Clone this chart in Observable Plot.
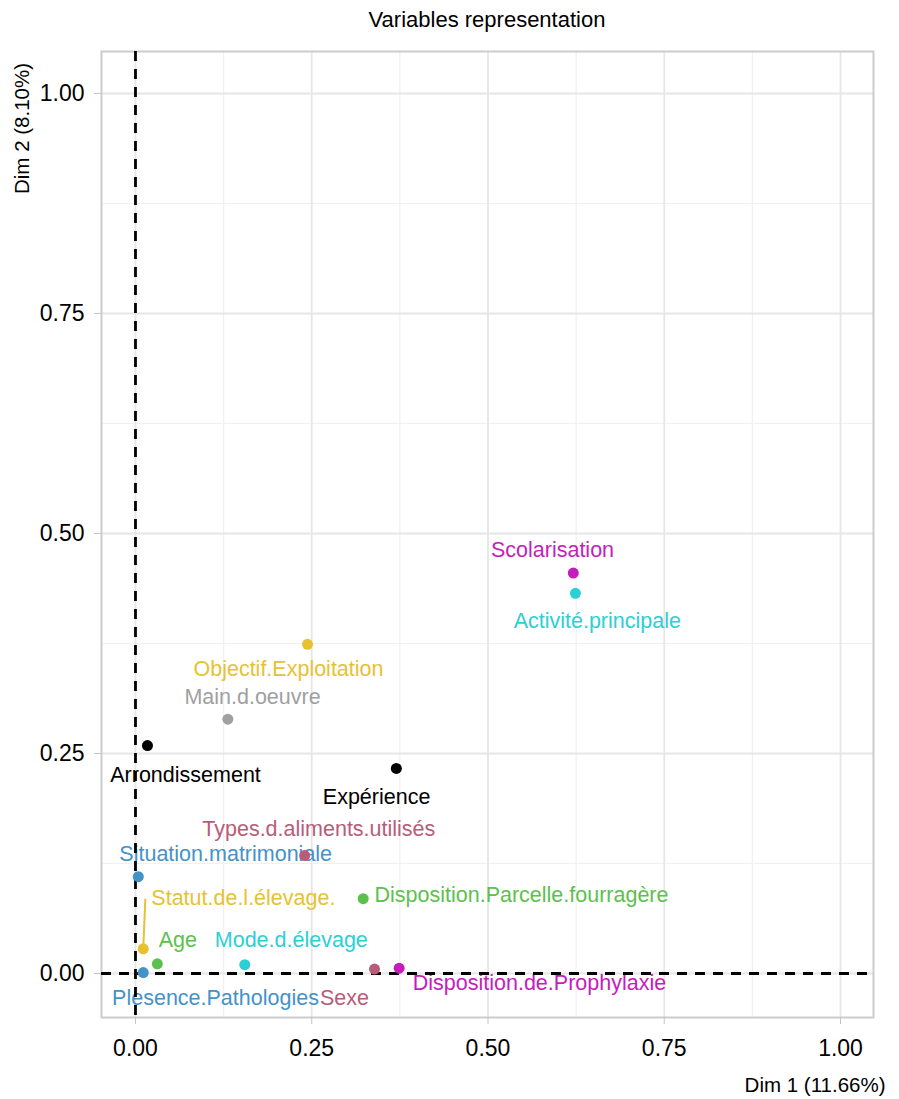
<!DOCTYPE html>
<html>
<head>
<meta charset="utf-8">
<script src="https://cdn.jsdelivr.net/npm/d3@7"></script>
<script src="https://cdn.jsdelivr.net/npm/@observablehq/plot@0.6"></script>
<style>
  html, body { margin: 0; padding: 0; background: #fff; }
  #title { height: 40px; line-height: 40px; font-family: "Liberation Sans", Arial, sans-serif; font-size: 22px; color: #000; text-align: center; width: 772px; margin-left: 101px; }
  svg { display: block; }
</style>
</head>
<body>
<div id="title">Variables representation</div>
<div id="chart"></div>
<script>
// ---- data ----
const variables = ["Scolarisation", "Activité.principale", "Objectif.Exploitation", "Main.d.oeuvre",
  "Arrondissement", "Expérience", "Types.d.aliments.utilisés", "Situation.matrimoniale",
  "Disposition.Parcelle.fourragère", "Statut.de.l.élevage.", "Age", "Mode.d.élevage",
  "Sexe", "Disposition.de.Prophylaxie", "Plesence.Pathologies"];
const dim1 = [0.621, 0.624, 0.244, 0.131, 0.017, 0.370, 0.240, 0.004, 0.323, 0.011, 0.031, 0.155, 0.339, 0.374, 0.011];
const dim2 = [0.455, 0.432, 0.374, 0.289, 0.259, 0.233, 0.134, 0.110, 0.085, 0.028, 0.011, 0.010, 0.005, 0.006, 0.001];
const groups = ["magenta", "cyan", "gold", "gray", "black", "black", "rose", "blue",
  "green", "gold", "green", "cyan", "rose", "magenta", "blue"];
// repelled label anchors (data units)
const labelDim1 = [0.5915, 0.655, 0.217, 0.166, 0.071, 0.342, 0.260, 0.128, 0.5475, 0.153, 0.060, 0.221, 0.2965, 0.573, 0.1135];
const labelDim2 = [0.481, 0.401, 0.346, 0.314, 0.225, 0.201, 0.164, 0.136, 0.0886, 0.086, 0.0375, 0.0375, -0.0284, -0.0114, -0.0284];
// connector segment for "Statut.de.l.élevage."
const segFrom = {x: 0.011, y: 0.028};
const segTo = {x: 0.014, y: 0.085};
const majorTicks = [0, 0.25, 0.5, 0.75, 1];
const minorTicks = [0.125, 0.375, 0.625, 0.875];
const xLabel = "Dim 1 (11.66%)";
const yLabel = "Dim 2 (8.10%)";

const groupDomain = ["magenta", "cyan", "gold", "gray", "black", "rose", "blue", "green"];
const groupColors = ["#c51dbb", "#2ccfd5", "#e6c232", "#a0a0a0", "#000000", "#b95c79", "#4592c7", "#5cc14c"];

const rows = variables.map((name, i) => ({
  name, x: dim1[i], y: dim2[i], g: groups[i], lx: labelDim1[i], ly: labelDim2[i]
}));

const font = "'Liberation Sans', Arial, sans-serif";

const chart = Plot.plot({
  width: 899,
  height: 1059,
  marginLeft: 101,
  marginRight: 26,
  marginTop: 11,
  marginBottom: 82,
  style: {fontFamily: font, background: "#fff"},
  x: {domain: [-0.0482, 1.0468], ticks: majorTicks},
  y: {domain: [-0.05, 1.0477], ticks: majorTicks},
  color: {domain: groupDomain, range: groupColors},
  marks: [
    Plot.ruleX(minorTicks, {stroke: "#f0f0f0", strokeWidth: 1.2}),
    Plot.ruleY(minorTicks, {stroke: "#f0f0f0", strokeWidth: 1.2}),
    Plot.ruleX(majorTicks, {stroke: "#e6e6e6", strokeWidth: 1.8}),
    Plot.ruleY(majorTicks, {stroke: "#e6e6e6", strokeWidth: 1.8}),
    Plot.frame({stroke: "#cccccc", strokeWidth: 2}),
    Plot.axisX(majorTicks, {tickFormat: d3.format(".2f"), tickSize: 7, tickPadding: 15, fontSize: 23, stroke: "#c4c4c4", fill: "#000", label: null}),
    Plot.axisY(majorTicks, {tickFormat: d3.format(".2f"), tickSize: 7, tickPadding: 10, fontSize: 23, stroke: "#c4c4c4", fill: "#000", label: null}),
    Plot.link([0], {x1: () => segFrom.x, y1: () => segFrom.y, x2: () => segTo.x, y2: () => segTo.y, stroke: groupColors[2], strokeWidth: 2}),
    Plot.text(rows, {x: "lx", y: "ly", text: "name", fill: "g", fontSize: 21.5, textAnchor: "middle", lineAnchor: "middle"}),
    Plot.ruleX([0], {stroke: "#000", strokeWidth: 2.8, strokeDasharray: "10,8"}),
    Plot.ruleY([0], {stroke: "#000", strokeWidth: 2.8, strokeDasharray: "10,8"}),
    Plot.dot(rows, {x: "x", y: "y", fill: "g", r: 5.5}),
    Plot.text([xLabel], {frameAnchor: "bottom-right", text: d => d, textAnchor: "end", lineAnchor: "middle", dx: 12, dy: 68, fontSize: 20.5, fill: "#000"}),
    Plot.text([yLabel], {frameAnchor: "top-left", text: d => d, rotate: -90, textAnchor: "middle", lineAnchor: "middle", dx: -79, dy: 77, fontSize: 20.5, fill: "#000"})
  ]
});
document.getElementById("chart").appendChild(chart);
</script>
</body>
</html>
